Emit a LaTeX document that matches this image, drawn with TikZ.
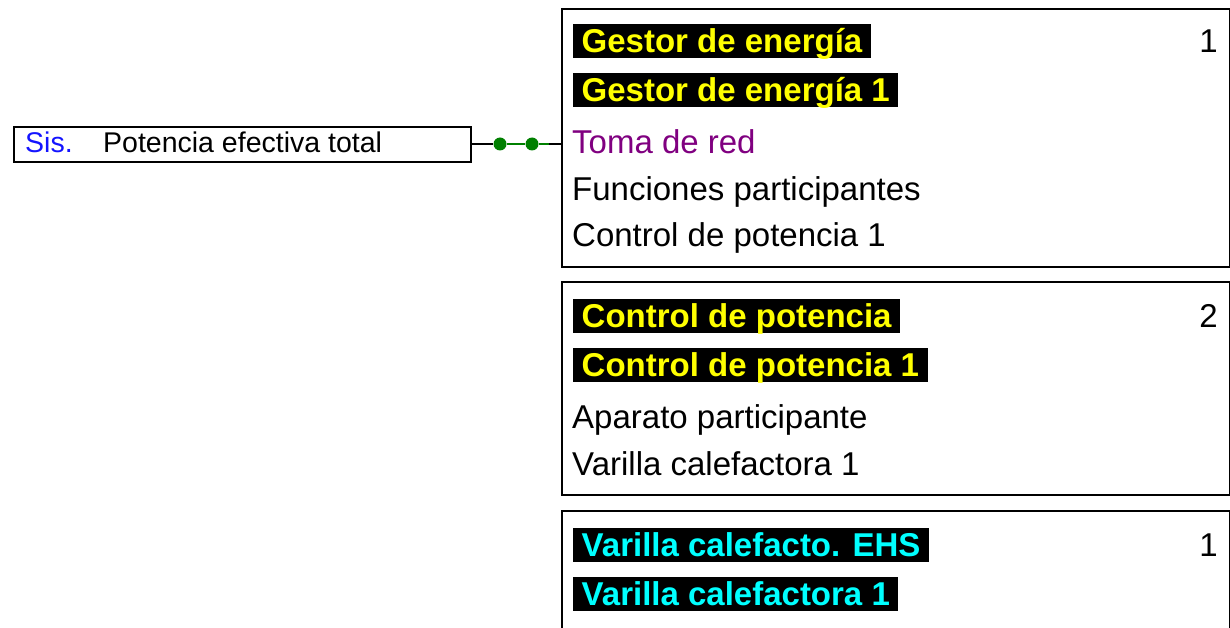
\documentclass[tikz,border=0pt]{standalone}
\usepackage{fontspec}
\setmainfont{Liberation Sans}
\usetikzlibrary{positioning}
\definecolor{sisblue}{RGB}{20,20,255}
\definecolor{redpurple}{RGB}{128,0,128}
\definecolor{linkgreen}{RGB}{0,128,0}
\definecolor{hlyellow}{RGB}{255,255,0}
\definecolor{hlcyan}{RGB}{0,255,255}

\begin{document}
\begin{tikzpicture}[x=1pt,y=-1pt]
\useasboundingbox (0,0) rectangle (1230,628);
\tikzstyle{frame}=[draw=black, line width=2pt, anchor=north west, minimum width=668pt, inner sep=0pt]
\tikzstyle{big}=[font=\fontsize{33}{40}\selectfont, inner sep=0pt, anchor=base west]
\tikzstyle{hl}=[big, font=\fontsize{33}{40}\selectfont\bfseries, fill=black, inner xsep=8.5pt, inner ysep=0pt, text height=28.5pt, text depth=5.5pt]
\tikzstyle{num}=[big, anchor=base east]
\tikzstyle{dot}=[circle, fill=linkgreen, inner sep=0pt, minimum size=13pt]
% boxes
\node[draw=black, line width=2pt, anchor=north west, minimum width=457pt, minimum height=35pt, inner sep=0pt] (sys) at (13,126) {};
\node[frame, minimum height=258pt] (ge) at (561,8) {};
\node[frame, minimum height=213pt] (cp) at (561,281) {};
\node[frame, minimum height=180pt] (vc) at (561,510) {};
% system value
\node[font=\fontsize{28.5}{34}\selectfont, text=sisblue, inner sep=0pt, anchor=base west] (sis) at (25,153) {Sis.};
\node[font=\fontsize{28.5}{34}\selectfont, inner sep=0pt, anchor=base west] (pot) at (103,153) {Potencia efectiva total};
% link
\node[dot] (d1) at (500,144) {};
\node[dot] (d2) at (532,144) {};
\coordinate (gend) at (549,144);
\coordinate (tap) at (561,144);
\draw[line width=2.5pt] (sys.east |- d1) -- (d1);
\draw[line width=2.5pt, linkgreen] (d1) -- (d2) -- (gend);
\draw[line width=2.5pt] (gend) -- (tap);
% energy manager
\node[hl, text=hlyellow] (ge1) at (573,53) {Gestor de energía};
\node[hl, text=hlyellow] (ge2) at (573,102) {Gestor de energía 1};
\node[num] (gen) at (1218,53) {1};
\node[big, text=redpurple] (ge3) at (572,154) {Toma de red};
\node[big] (ge4) at (572,200.5) {Funciones participantes};
\node[big] (ge5) at (572,247) {Control de potencia 1};
% power control
\node[hl, text=hlyellow] (cp1) at (573,327) {Control de potencia};
\node[hl, text=hlyellow] (cp2) at (573,376.5) {Control de potencia 1};
\node[num] (cpn) at (1218,327) {2};
\node[big] (cp3) at (572,428) {Aparato participante};
\node[big] (cp4) at (572,475) {Varilla calefactora 1};
% heating rod
\node[hl, text=hlcyan] (vc1) at (573,556) {Varilla calefacto. EHS};
\node[hl, text=hlcyan] (vc2) at (573,605) {Varilla calefactora 1};
\node[num] (vcn) at (1218,556) {1};
\end{tikzpicture}
\end{document}
